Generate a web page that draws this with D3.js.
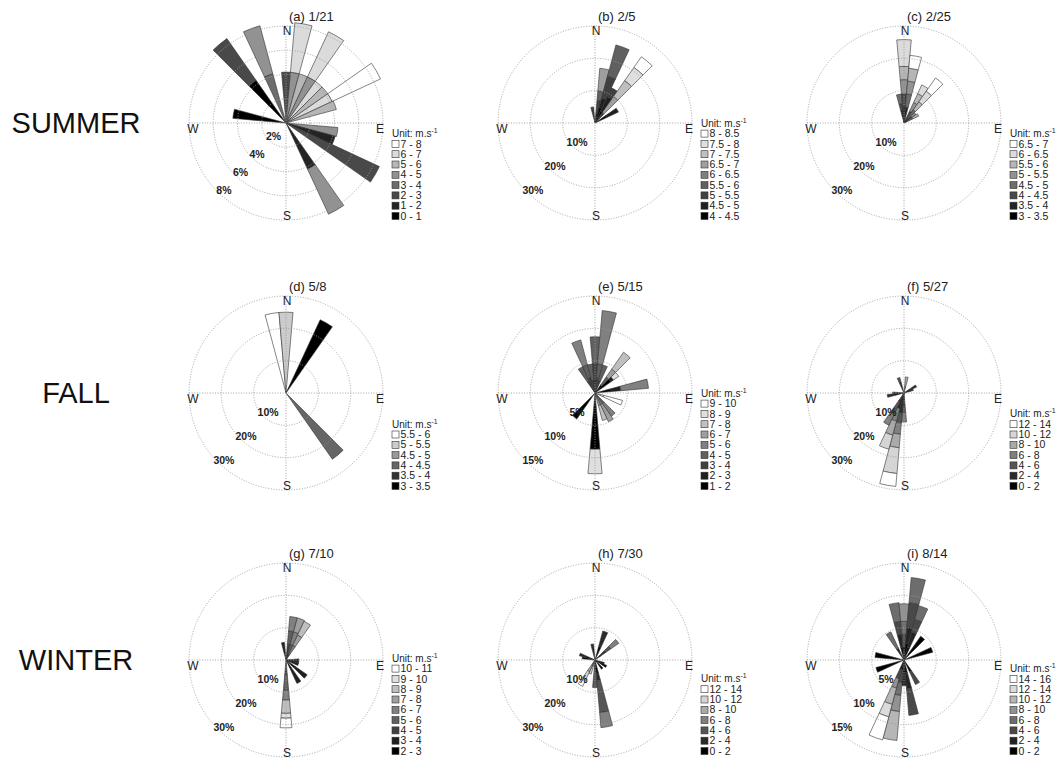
<!DOCTYPE html>
<html><head><meta charset="utf-8">
<script src="https://cdn.jsdelivr.net/npm/d3@7"></script>
<style>
body{margin:0;background:#fff}
svg{display:block}
text{font-family:"Liberation Sans",Arial,Helvetica,sans-serif}
</style>
</head><body>
<svg id="chart" width="1060" height="761"></svg>
<script>
// ---------------- data ----------------
const seasons = ["SUMMER", "FALL", "WINTER"];
const titles = ["(a) 1/21", "(b) 2/5", "(c) 2/25", "(d) 5/8", "(e) 5/15", "(f) 5/27", "(g) 7/10", "(h) 7/30", "(i) 8/14"];

// ring levels (%)
const ringsA = [2, 4, 6, 8];
const ringsB = [10, 20, 30];
const ringsC = [10, 20, 30];
const ringsD = [10, 20, 30];
const ringsE = [5, 10, 15];
const ringsF = [10, 20, 30];
const ringsG = [10, 20, 30];
const ringsH = [10, 20, 30];
const ringsI = [5, 10, 15];

// speed bins, lowest first (m/s)
const binsA = ["0 - 1", "1 - 2", "2 - 3", "3 - 4", "4 - 5", "5 - 6", "6 - 7", "7 - 8"];
const binsB = ["4 - 4.5", "4.5 - 5", "5 - 5.5", "5.5 - 6", "6 - 6.5", "6.5 - 7", "7 - 7.5", "7.5 - 8", "8 - 8.5"];
const binsC = ["3 - 3.5", "3.5 - 4", "4 - 4.5", "4.5 - 5", "5 - 5.5", "5.5 - 6", "6 - 6.5", "6.5 - 7"];
const binsD = ["3 - 3.5", "3.5 - 4", "4 - 4.5", "4.5 - 5", "5 - 5.5", "5.5 - 6"];
const binsE = ["1 - 2", "2 - 3", "3 - 4", "4 - 5", "5 - 6", "6 - 7", "7 - 8", "8 - 9", "9 - 10"];
const binsF = ["0 - 2", "2 - 4", "4 - 6", "6 - 8", "8 - 10", "10 - 12", "12 - 14"];
const binsG = ["2 - 3", "3 - 4", "4 - 5", "5 - 6", "6 - 7", "7 - 8", "8 - 9", "9 - 10", "10 - 11"];
const binsH = ["0 - 2", "2 - 4", "4 - 6", "6 - 8", "8 - 10", "10 - 12", "12 - 14"];
const binsI = ["0 - 2", "2 - 4", "4 - 6", "6 - 8", "8 - 10", "10 - 12", "12 - 14", "14 - 16"];

// directions (deg) and frequency (%) per speed bin, lowest bin first
const dirsA = [0, 10, 20, 30, 40, 50, 60, 70, 100, 110, 120, 150, 280, 320, 340];
const valsA = [
  [0, 0, 4.2, 0, 0, 0, 0, 0],
  [0, 0, 0, 0, 4.2, 0, 4.1, 0],
  [0, 0, 0, 0, 0, 4.2, 0, 0],
  [0, 0, 0, 0, 4.2, 0, 4.1, 0],
  [0, 0, 0, 0, 0, 0, 4.2, 0],
  [0, 0, 0, 0, 0, 4.2, 0, 0],
  [0, 0, 0, 0, 0, 0, 4.2, 4.4],
  [0, 0, 0, 0, 0, 4.3, 0, 0],
  [0, 0, 0, 0, 4.3, 0, 0, 0],
  [0, 4.2, 0, 0, 0, 0, 0, 0],
  [0, 0, 8.5, 0, 0, 0, 0, 0],
  [0, 4.2, 0, 0, 4.1, 0, 0, 0],
  [4.4, 0, 0, 0, 0, 0, 0, 0],
  [4.3, 0, 4.2, 0, 0, 0, 0, 0],
  [0, 0, 0, 4.2, 4.1, 0, 0, 0]
];

const dirsB = [350, 10, 20, 30, 40, 60];
const valsB = [
  [0, 2, 3, 0, 0, 0, 0, 0, 0],
  [3, 0, 4, 3, 0, 7, 0, 0, 0],
  [5, 3, 7, 10, 0, 0, 0, 0, 0],
  [4, 5, 3, 0, 0, 0, 0, 0, 0],
  [0, 2, 2, 0, 0, 6, 6, 5, 4],
  [4, 4, 0, 0, 0, 0, 0, 0, 0]
];

const dirsC = [350, 0, 10, 30, 40, 50, 60];
const valsC = [
  [2, 2, 2, 3, 0, 0, 0, 0],
  [2.5, 2.8, 3.7, 0, 4.4, 4.1, 8.3, 0],
  [2, 3, 0, 4, 4, 4, 0, 4],
  [1, 0, 3, 0, 3, 3, 3, 0],
  [0, 2, 0, 3, 0, 3, 4, 5],
  [1, 0, 2, 0, 1.5, 0, 0, 0],
  [0, 1, 0, 2, 0, 2, 0, 0]
];

const dirsD = [350, 0, 30, 140];
const valsD = [
  [0, 0, 0, 0, 0, 25],
  [0, 0, 0, 0, 25, 0],
  [25, 0, 0, 0, 0, 0],
  [0, 0, 25, 0, 0, 0]
];

const dirsE = [330, 340, 350, 0, 10, 20, 40, 50, 80, 110, 140, 150, 160, 180, 220];
const valsE = [
  [0, 0, 2, 2.5, 0, 0, 0, 0, 0],
  [0, 0, 2.5, 2, 4, 0, 0, 0, 0],
  [0, 0, 2, 2.5, 0, 0, 0, 0, 0],
  [0, 2, 2.5, 4.2, 0, 0, 0, 0, 0],
  [0, 0, 2.3, 2.2, 8.3, 0, 0, 0, 0],
  [0, 0, 2, 2.5, 0, 0, 0, 0, 0],
  [1.5, 0, 0, 1.5, 0, 1.5, 3.2, 0, 0],
  [3, 0.5, 0, 0, 0, 0, 0, 1, 0],
  [2.5, 1.5, 0, 0, 4.3, 0, 0, 0, 0],
  [0, 0, 0, 0, 0, 0, 0, 1.4, 3],
  [0, 0, 0, 2, 2.4, 0, 0, 0, 0],
  [0, 0, 0, 0, 2, 2.9, 0, 0, 0],
  [0, 0, 0, 0, 0, 2, 2.4, 0, 0],
  [8.7, 0, 0, 0, 0, 0, 0, 3.8, 0],
  [4.9, 0, 0, 0, 0, 0, 0, 0, 0]
];

const dirsF = [340, 10, 60, 70, 180, 190, 200, 210, 260, 270];
const valsF = [
  [1.5, 2, 1.5, 0, 0, 0, 0],
  [0, 0, 2, 0, 3, 0, 0],
  [2, 2.3, 0, 0, 0, 0, 0],
  [2, 1, 0, 0, 0, 0, 0],
  [2, 2, 2, 3, 0, 0, 0],
  [2.6, 3.6, 3.1, 3.5, 4.2, 8, 4],
  [2, 3, 0, 4, 4.5, 4.5, 0],
  [0, 3, 4, 4, 0, 0, 0],
  [3, 2.2, 0, 0, 0, 0, 0],
  [2, 1.5, 0, 0, 0, 0, 0]
];

const dirsG = [350, 10, 20, 30, 90, 100, 110, 130, 150, 180];
const valsG = [
  [3, 2.5, 0, 0, 0, 0, 0, 0, 0],
  [2, 0, 3, 4, 4.5, 0, 0, 0, 0],
  [0, 2, 0, 3, 4, 4.5, 0, 0, 0],
  [0, 0, 2, 0, 3, 3.5, 4.7, 0, 0],
  [3, 1, 0, 0, 0, 0, 0, 0, 0],
  [2, 2, 0, 0, 0, 0, 0, 0, 0],
  [2.5, 1.5, 0, 0, 0, 0, 0, 0, 0],
  [3.5, 4.5, 0, 0, 0, 0, 0, 0, 0],
  [3, 5, 0, 0, 0, 0, 0, 0, 0],
  [1.5, 0, 3.3, 4.6, 3, 0, 4.1, 1.5, 3]
];

const dirsH = [350, 20, 50, 110, 120, 140, 170, 180, 200, 210, 280, 290];
const valsH = [
  [2, 3, 0, 0, 0, 0, 0],
  [4.3, 5, 0, 0, 0, 0, 0],
  [2, 2, 2, 3, 0, 0, 0],
  [3, 0, 0, 0, 0, 0, 0],
  [4, 0, 0, 0, 0, 0, 0],
  [3.5, 0, 0, 0, 0, 0, 0],
  [4.3, 2, 10, 4.7, 0, 0, 0],
  [3, 0, 5.5, 0, 0, 0, 0],
  [0, 0, 0, 0, 2, 2.5, 0],
  [0, 0, 0, 2, 2, 2.5, 2.5],
  [4, 0, 0, 0, 0, 0, 0],
  [3, 2, 0, 0, 0, 0, 0]
];

const dirsI = [330, 350, 0, 10, 20, 40, 70, 150, 170, 180, 190, 200, 250, 280];
const valsI = [
  [0, 2, 0, 2.8, 0, 0, 0, 0],
  [2, 2, 2, 2.9, 0, 0, 0, 0],
  [2, 0, 2, 2, 2.7, 0, 0, 0],
  [2.6, 2.5, 3.8, 3.9, 0, 0, 0, 0],
  [2, 2.5, 2, 2.2, 0, 0, 0, 0],
  [4.5, 0, 0, 0, 0, 0, 0, 0],
  [4.6, 0, 0, 0, 0, 0, 0, 0],
  [2, 0, 2.2, 0, 0, 0, 0, 0],
  [2, 2.5, 4.1, 0, 0, 0, 0, 0],
  [2, 2, 0, 0, 0, 0, 0, 0],
  [1.5, 0, 2, 2, 2.5, 4.5, 0, 0],
  [1.5, 0, 1.5, 0, 1.5, 2.6, 2, 3.7],
  [4.5, 0, 0, 0, 0, 0, 0, 0],
  [4.5, 0, 0, 0, 0, 0, 0, 0]
];

const panels = [
  {rings: ringsA, bins: binsA, dirs: dirsA, vals: valsA},
  {rings: ringsB, bins: binsB, dirs: dirsB, vals: valsB},
  {rings: ringsC, bins: binsC, dirs: dirsC, vals: valsC},
  {rings: ringsD, bins: binsD, dirs: dirsD, vals: valsD},
  {rings: ringsE, bins: binsE, dirs: dirsE, vals: valsE},
  {rings: ringsF, bins: binsF, dirs: dirsF, vals: valsF},
  {rings: ringsG, bins: binsG, dirs: dirsG, vals: valsG},
  {rings: ringsH, bins: binsH, dirs: dirsH, vals: valsH},
  {rings: ringsI, bins: binsI, dirs: dirsI, vals: valsI}
];

// ---------------- layout ----------------
const svg = d3.select("#chart");
const R = 97;
const colX = [286, 595, 904];
const rowY = [123, 393, 660];
const legendBottom = [93, 93, 91];
const sectorWidth = 10;
const gridColor = "#9a9a9a";

seasons.forEach((s, i) => {
  svg.append("text").attr("x", 76).attr("y", rowY[i] + 10)
    .attr("text-anchor", "middle").attr("font-size", 29).attr("fill", "#111").text(s);
});

const ang = d3.scaleLinear().domain([0, 360]).range([0, 2 * Math.PI]);
const arc = d3.arc();

panels.forEach((p, i) => {
  const row = Math.floor(i / 3);
  const cx = colX[i % 3], cy = rowY[row];
  const g = svg.append("g").attr("transform", `translate(${cx},${cy})`);
  const rMax = d3.max(p.rings);
  const r = d3.scaleLinear().domain([0, rMax]).range([0, R]);
  const n = p.bins.length;
  const color = d3.scaleLinear().domain([0, n - 1]).range(["#000000", "#ffffff"]);

  // bars
  const gb = g.append("g");
  p.dirs.forEach((d, k) => {
    let acc = 0;
    p.vals[k].forEach((v, b) => {
      if (!v) return;
      gb.append("path")
        .attr("d", arc({innerRadius: r(acc), outerRadius: r(acc + v),
                        startAngle: ang(d - sectorWidth / 2), endAngle: ang(d + sectorWidth / 2)}))
        .attr("fill", color(b)).attr("stroke", "#333").attr("stroke-width", 0.6)
        .attr("stroke-linejoin", "round");
      acc += v;
    });
  });

  // grid on top
  const gg = g.append("g").attr("fill", "none").attr("stroke", gridColor)
    .attr("stroke-width", 0.9).attr("stroke-dasharray", "1,1.6");
  p.rings.forEach(v => gg.append("circle").attr("r", r(v)));
  gg.append("line").attr("x1", 0).attr("x2", 0).attr("y1", -R).attr("y2", R);
  gg.append("line").attr("y1", 0).attr("y2", 0).attr("x1", -R).attr("x2", R);

  // compass labels
  const cl = g.append("g").attr("font-size", 12).attr("fill", "#222").attr("text-anchor", "middle");
  cl.append("text").attr("x", 1).attr("y", -R + 8.6).text("N");
  cl.append("text").attr("x", 1).attr("y", R).text("S");
  cl.append("text").attr("x", -R + 4).attr("y", 10.3).text("W");
  cl.append("text").attr("x", R - 3).attr("y", 10.3).text("E");

  // ring labels
  const la = ang(223);
  p.rings.forEach(v => {
    const d = r(v) - 6;
    g.append("text").attr("x", d * Math.sin(la)).attr("y", -d * Math.cos(la))
      .attr("text-anchor", "middle").attr("dominant-baseline", "central")
      .attr("font-size", 10.5).attr("font-weight", "bold").attr("fill", "#222")
      .text(v + "%");
  });

  // title
  g.append("text").attr("x", 3).attr("y", -R - 5).attr("font-size", 13).attr("fill", "#222")
    .text(titles[i]);

  // legend
  const lx = 106, step = 10.3;
  const lastY = legendBottom[row];
  const firstY = lastY - (n - 1) * step;
  const lg = g.append("g").attr("font-size", 10).attr("fill", "#222");
  const hdr = lg.append("text").attr("x", lx).attr("y", firstY - 7);
  hdr.append("tspan").text("Unit: m.s");
  hdr.append("tspan").attr("dy", -4).attr("font-size", 7).text("-1");
  const order = d3.range(n).reverse();
  order.forEach((b, j) => {
    const y = firstY + j * step;
    lg.append("rect").attr("x", lx).attr("y", y - 3.5).attr("width", 7).attr("height", 7)
      .attr("fill", color(b)).attr("stroke", "#333").attr("stroke-width", 0.6);
    lg.append("text").attr("x", lx + 8.5).attr("y", y + 3.6).attr("font-size", 10.5).text(p.bins[b]);
  });
});
</script>
</body></html>
